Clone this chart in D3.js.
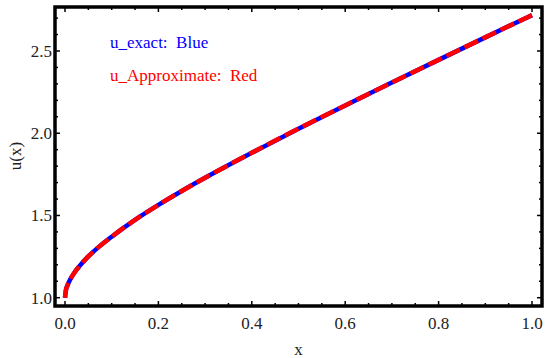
<!DOCTYPE html>
<html>
<head>
<meta charset="utf-8">
<script src="https://cdn.jsdelivr.net/npm/d3@7/dist/d3.min.js"></script>
<style>
  body { margin: 0; background: #fff; }
  svg text { font-family: "Liberation Serif", "Times New Roman", "DejaVu Serif", serif; }
</style>
</head>
<body>
<svg id="chart" width="550" height="358"></svg>
<script>
// values
var xs = [0, 0.002, 0.005, 0.01, 0.02, 0.03, 0.05, 0.075, 0.1, 0.15, 0.2, 0.25, 0.3, 0.4, 0.5, 0.6, 0.7, 0.8, 0.9, 1.0];
var uExact = [1.0, 1.046, 1.073, 1.105, 1.152, 1.189, 1.251, 1.315, 1.371, 1.473, 1.564, 1.649, 1.729, 1.881, 2.028, 2.169, 2.308, 2.446, 2.583, 2.718];
var uApprox = [1.0, 1.046, 1.073, 1.105, 1.152, 1.189, 1.251, 1.315, 1.371, 1.473, 1.564, 1.649, 1.729, 1.881, 2.028, 2.169, 2.308, 2.446, 2.583, 2.718];
var xTicks = [0, 0.2, 0.4, 0.6, 0.8, 1.0];
var yTicks = [1.0, 1.5, 2.0, 2.5];
var legendLines = ["u_exact:  Blue", "u_Approximate:  Red"];

var svg = d3.select("#chart");
var frame = {left: 55, right: 542, top: 7, bottom: 306};

var x = d3.scaleLinear().domain([0, 1]).range([65, 532]);
var y = d3.scaleLinear().domain([1, 2.5]).range([297.7, 51]);

var g = svg.append("g");

// curves
var line = d3.line()
    .x(function(d) { return x(d[0]); })
    .y(function(d) { return y(d[1]); })
    .curve(d3.curveMonotoneX);

g.append("path")
    .datum(d3.zip(xs, uExact))
    .attr("fill", "none")
    .attr("stroke", "#0000ff")
    .attr("stroke-width", 4.5)
    .attr("d", line);

g.append("path")
    .datum(d3.zip(xs, uApprox))
    .attr("fill", "none")
    .attr("stroke", "#ff0000")
    .attr("stroke-width", 4.5)
    .attr("stroke-dasharray", "15,5")
    .attr("d", line);

// ticks on all four sides, pointing inward
var xMinor = d3.range(0, 1.0001, 0.05).filter(function(v) { return Math.abs(v * 5 - Math.round(v * 5)) > 1e-6; });
var yMinor = d3.range(1.0, 2.7501, 0.1).filter(function(v) { return Math.abs(v * 2 - Math.round(v * 2)) > 1e-6; });

function ticksX(vals, len) {
  vals.forEach(function(v) {
    g.append("line").attr("x1", x(v)).attr("x2", x(v))
      .attr("y1", frame.bottom).attr("y2", frame.bottom - len)
      .attr("stroke", "#000").attr("stroke-width", 1.5);
    g.append("line").attr("x1", x(v)).attr("x2", x(v))
      .attr("y1", frame.top).attr("y2", frame.top + len)
      .attr("stroke", "#000").attr("stroke-width", 1.5);
  });
}
function ticksY(vals, len) {
  vals.forEach(function(v) {
    g.append("line").attr("y1", y(v)).attr("y2", y(v))
      .attr("x1", frame.left).attr("x2", frame.left + len)
      .attr("stroke", "#000").attr("stroke-width", 1.5);
    g.append("line").attr("y1", y(v)).attr("y2", y(v))
      .attr("x1", frame.right).attr("x2", frame.right - len)
      .attr("stroke", "#000").attr("stroke-width", 1.5);
  });
}
ticksX(xTicks, 5);
ticksX(xMinor, 3);
ticksY(yTicks, 5);
ticksY(yMinor, 3);

// frame
g.append("rect")
    .attr("x", frame.left).attr("y", frame.top)
    .attr("width", frame.right - frame.left)
    .attr("height", frame.bottom - frame.top)
    .attr("fill", "none")
    .attr("stroke", "#000")
    .attr("stroke-width", 3.5);

// tick labels
g.selectAll(".xl").data(xTicks).enter().append("text")
    .attr("x", function(d) { return x(d); })
    .attr("y", 329)
    .attr("text-anchor", "middle")
    .attr("font-size", 17)
    .attr("fill", "#222")
    .text(function(d) { return d3.format(".1f")(d); });

g.selectAll(".yl").data(yTicks).enter().append("text")
    .attr("x", 52)
    .attr("y", function(d) { return y(d) + 6; })
    .attr("text-anchor", "end")
    .attr("font-size", 17)
    .attr("fill", "#222")
    .text(function(d) { return d3.format(".1f")(d); });

// axis titles
g.append("text")
    .attr("x", (x(0) + x(1)) / 2)
    .attr("y", 355)
    .attr("text-anchor", "middle")
    .attr("font-size", 17)
    .attr("fill", "#222")
    .text("x");

g.append("text")
    .attr("transform", "translate(21,156) rotate(-90)")
    .attr("text-anchor", "middle")
    .attr("font-size", 17)
    .attr("fill", "#222")
    .text("u(x)");

// legend text
g.selectAll(".lg").data(legendLines).enter().append("text")
    .attr("x", 110)
    .attr("y", function(d, i) { return 48 + i * 33; })
    .attr("font-size", 17)
    .attr("fill", function(d, i) { return i === 0 ? "#0000ff" : "#ff0000"; })
    .style("white-space", "pre")
    .text(function(d) { return d; });
</script>
</body>
</html>
